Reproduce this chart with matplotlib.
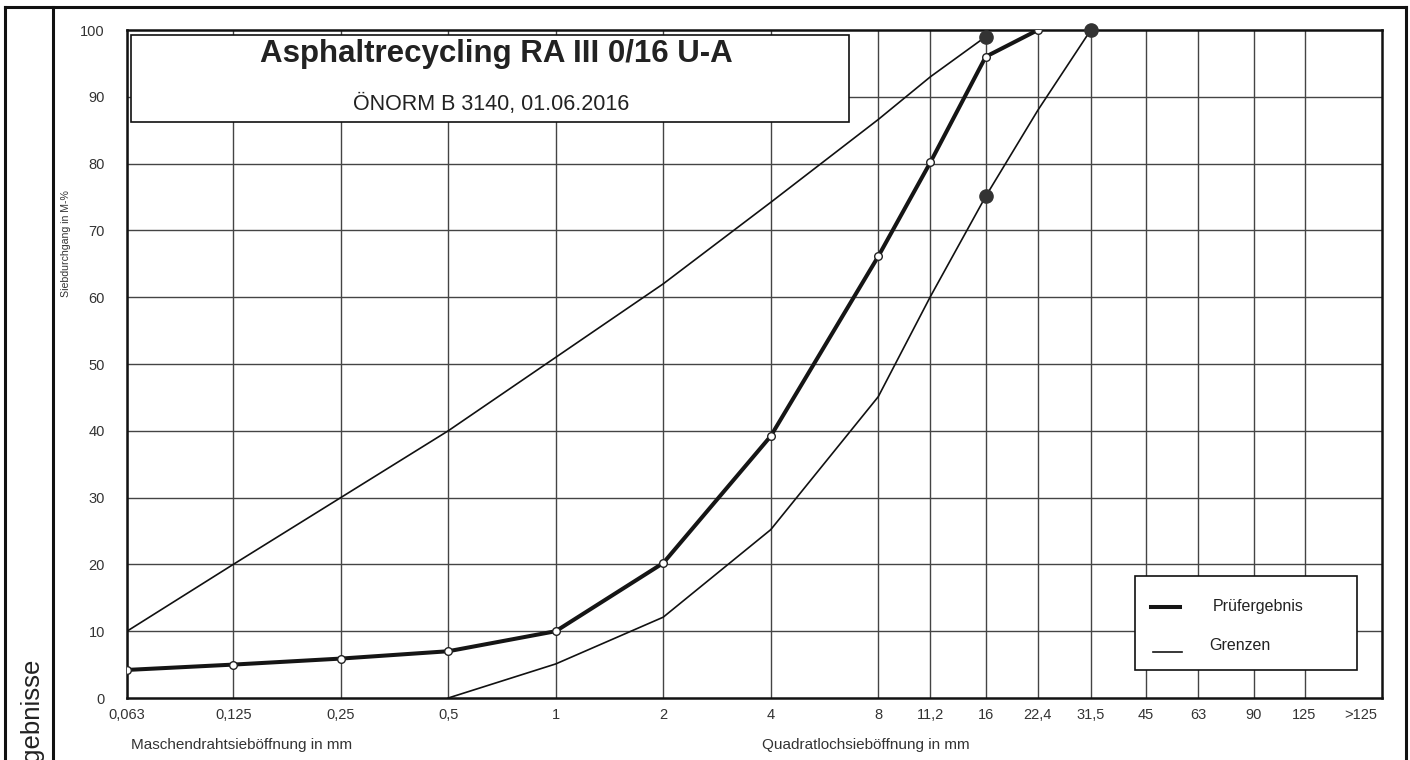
import numpy as np
import matplotlib.pyplot as plt
from matplotlib.patches import Rectangle
from matplotlib.lines import Line2D

# sieve sizes (mm) and labels
sieves = [0.063, 0.125, 0.25, 0.5, 1, 2, 4, 8, 11.2, 16, 22.4, 31.5, 45, 63, 90, 125]
sieve_labels = ['0,063', '0,125', '0,25', '0,5', '1', '2', '4', '8', '11,2', '16',
                '22,4', '31,5', '45', '63', '90', '125']
over_label = '>125'
over_pos = 180

# Prüfergebnis
test_sieves = [0.063, 0.125, 0.25, 0.5, 1, 2, 4, 8, 11.2, 16, 22.4]
test_pass = [4.2, 5.0, 5.9, 7.0, 10.0, 20.2, 39.2, 66.1, 80.2, 96.0, 100.0]

# Grenzen
upper_sieves = [0.063, 0.125, 0.25, 0.5, 1, 2, 4, 8, 11.2, 16]
upper_pass = [10, 20, 30, 40, 51, 62, 74.2, 86.6, 93, 99]
lower_sieves = [0.5, 1, 2, 4, 8, 11.2, 16, 22.4, 31.5]
lower_pass = [0, 5.1, 12.1, 25.2, 45.1, 60.1, 75.1, 88, 100]
key_sieves = [16, 16, 31.5]
key_pass = [99, 75.1, 100]

W, H = 1410, 760
narrow = ['Liberation Sans Narrow', 'Liberation Sans', 'DejaVu Sans']
plt.rcParams['font.family'] = ['Liberation Sans', 'DejaVu Sans']


def fx(x):
    return x / W


def fy(y):
    return 1 - y / H


fig = plt.figure(figsize=(W / 100, H / 100), dpi=100)
ax = fig.add_axes([fx(127), fy(698), (1382 - 127) / W, (698 - 30) / H])
ax.set_xscale('log', base=2)
ax.set_xlim(0.063, 206)
ax.set_ylim(0, 100)

for s in sieves:
    ax.axvline(s, color='#444444', lw=1.0, zorder=1)
for v in range(10, 100, 10):
    ax.axhline(v, color='#444444', lw=1.0, zorder=1)

ax.plot(upper_sieves, upper_pass, color='#111111', lw=1.2, zorder=3)
ax.plot(lower_sieves, lower_pass, color='#111111', lw=1.2, zorder=3)
ax.plot(test_sieves, test_pass, color='#151515', lw=2.9, zorder=4,
        marker='o', markersize=5.5, markerfacecolor='white',
        markeredgecolor='#222222', markeredgewidth=1.0)
ax.plot(key_sieves, key_pass, 'o', color='#333333', markersize=9.5,
        zorder=5, clip_on=False)

ax.set_xticks(sieves + [over_pos])
ax.set_xticklabels(sieve_labels + [over_label])
ax.xaxis.set_minor_locator(plt.NullLocator())
ax.set_yticks(range(0, 101, 10))
ax.tick_params(axis='both', length=0, labelsize=10.5, colors='#333333')
ax.tick_params(axis='x', pad=7)
ax.tick_params(axis='y', pad=16)
for sp in ax.spines.values():
    sp.set_linewidth(1.8)
    sp.set_color('#111111')

fig.text(fx(131), fy(745), 'Maschendrahtsieböffnung in mm', fontsize=11,
         family=narrow, color='#333333', ha='left', va='center')
fig.text(fx(762), fy(745), 'Quadratlochsieböffnung in mm', fontsize=11,
         family=narrow, color='#333333', ha='left', va='center')
fig.text(fx(66), fy(244), 'Siebdurchgang in M-%', fontsize=7.6, family=narrow,
         color='#333333', rotation=90, ha='center', va='center')

# title box
fig.add_artist(Rectangle((fx(131), fy(122)), (849 - 131) / W, (122 - 35) / H,
                         transform=fig.transFigure, facecolor='white',
                         edgecolor='#111111', lw=1.2, zorder=6))
fig.text(fx(496), fy(54), 'Asphaltrecycling RA III 0/16 U-A', fontsize=22.5,
         fontweight='bold', color='#222222', ha='center', va='center', zorder=7)
fig.text(fx(491), fy(104), 'ÖNORM B 3140, 01.06.2016', fontsize=15.5,
         color='#222222', ha='center', va='center', zorder=7)

# legend box
fig.add_artist(Rectangle((fx(1135), fy(670)), (1357 - 1135) / W, (670 - 576) / H,
                         transform=fig.transFigure, facecolor='white',
                         edgecolor='#111111', lw=1.2, zorder=6))
fig.add_artist(Line2D([fx(1151), fx(1180)], [fy(607), fy(607)], color='#151515',
                      lw=2.9, zorder=7))
fig.add_artist(Line2D([fx(1153), fx(1182)], [fy(652), fy(652)], color='#151515',
                      lw=1.2, zorder=7))
fig.text(fx(1213), fy(607), 'Prüfergebnis', fontsize=11.5, color='#222222',
         ha='left', va='center', zorder=7)
fig.text(fx(1209), fy(645), 'Grenzen', fontsize=11.5, color='#222222',
         ha='left', va='center', zorder=7)

# outer frame
fig.add_artist(Line2D([fx(5), fx(1406)], [fy(7), fy(7)], color='#111111', lw=2.2))
fig.add_artist(Line2D([fx(5), fx(5)], [fy(7), 0], color='#111111', lw=2.2))
fig.add_artist(Line2D([fx(1406), fx(1406)], [fy(7), 0], color='#111111', lw=2.2))
fig.add_artist(Line2D([fx(53), fx(53)], [fy(7), 0], color='#111111', lw=2.2))
fig.text(fx(31), fy(657), 'Prüfergebnisse', fontsize=18.5, color='#222222',
         rotation=90, ha='center', va='top')

fig.savefig('out.png', dpi=100)
